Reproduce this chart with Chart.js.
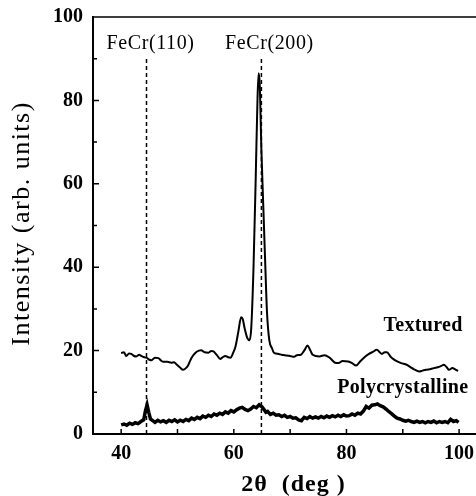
<!DOCTYPE html>
<html>
<head>
<meta charset="utf-8">
<script src="https://cdn.jsdelivr.net/npm/chart.js@4.4.1/dist/chart.umd.min.js"></script>
<style>
html, body { margin: 0; padding: 0; background: #fff; overflow: hidden; }
</style>
</head>
<body>
<canvas id="myChart" width="476" height="496"></canvas>
<script>
// Textured curve (2theta, intensity)
const texturedX = [40.0, 40.5, 40.9, 41.4, 41.8, 42.3, 42.7, 43.2, 43.6, 44.1, 44.5, 45.0, 45.4, 46.0, 46.6, 47.1, 47.5, 48.2, 48.9, 49.4, 49.8, 50.4, 51.0, 51.5, 51.9, 52.5, 53.2, 53.8, 54.2, 54.8, 55.5, 56.0, 56.4, 57.0, 57.6, 58.0, 58.5, 59.0, 59.4, 59.9, 60.3, 60.8, 61.3, 61.6, 61.9, 62.4, 62.8, 63.1, 63.5, 63.9, 64.2, 64.4, 64.6, 64.9, 65.3, 65.6, 65.9, 66.3, 66.8, 67.1, 67.5, 68.0, 68.5, 69.0, 70.0, 70.7, 71.2, 71.9, 72.5, 73.1, 73.6, 74.0, 75.2, 76.1, 77.0, 78.0, 78.6, 79.3, 80.3, 81.0, 81.7, 82.5, 83.3, 84.0, 84.7, 85.4, 85.9, 86.3, 86.8, 87.2, 87.8, 88.4, 89.0, 89.7, 90.7, 91.4, 92.0, 92.9, 93.5, 94.1, 95.0, 95.5, 96.2, 96.8, 97.3, 97.8, 98.2, 98.8, 99.3, 99.8]
const texturedY = [19.4, 19.6, 18.7, 19.3, 19.2, 18.7, 18.6, 19.0, 18.7, 18.4, 18.3, 17.8, 17.7, 18.3, 18.2, 17.6, 17.3, 17.3, 17.1, 17.2, 16.7, 16.0, 15.4, 15.8, 16.5, 18.3, 19.5, 20.0, 20.1, 19.6, 19.5, 19.9, 19.8, 18.9, 18.0, 18.4, 18.7, 18.4, 18.3, 19.5, 21.0, 24.5, 28.0, 27.5, 25.5, 23.0, 22.5, 25.5, 40, 62, 80, 86.5, 84, 68, 52, 40, 29, 22.5, 20.5, 19.5, 19.3, 19.2, 19.0, 18.9, 18.7, 18.5, 18.9, 19.0, 20.0, 21.2, 20.0, 19.0, 18.6, 18.9, 18.3, 17.1, 17.0, 17.5, 17.4, 17.0, 16.4, 17.5, 18.5, 19.2, 19.7, 20.2, 19.6, 19.2, 19.6, 19.6, 18.6, 17.9, 17.4, 17.0, 16.6, 16.0, 15.5, 15.0, 15.2, 15.4, 15.6, 15.8, 16.0, 16.3, 16.6, 16.0, 15.4, 15.8, 15.5, 15.1]

// Polycrystalline curve
const polyX = [40.0, 40.5, 41.0, 41.5, 42.0, 42.5, 43.0, 43.5, 44.0, 44.3, 44.6, 44.9, 45.2, 45.6, 46.0, 46.5, 47.0, 47.5, 48.0, 48.5, 49.0, 49.5, 50.0, 50.5, 51.0, 51.5, 52.0, 52.5, 53.0, 53.5, 54.0, 54.5, 55.0, 55.5, 56.0, 56.5, 57.0, 57.5, 58.0, 58.5, 59.0, 59.5, 60.0, 60.5, 61.0, 61.5, 62.0, 62.5, 63.0, 63.5, 64.0, 64.5, 65.0, 65.3, 65.7, 66.0, 66.5, 67.0, 67.5, 68.0, 68.5, 69.0, 69.5, 70.0, 70.5, 71.0, 71.5, 72.0, 72.5, 73.0, 73.5, 74.0, 74.5, 75.0, 75.5, 76.0, 76.5, 77.0, 77.5, 78.0, 78.5, 79.0, 79.5, 80.0, 80.5, 81.0, 81.5, 82.0, 82.5, 83.0, 83.5, 84.0, 84.5, 85.0, 85.5, 86.0, 86.5, 87.0, 87.5, 88.0, 88.5, 89.0, 89.5, 90.0, 90.5, 91.0, 91.5, 92.0, 92.5, 93.0, 93.5, 94.0, 94.5, 95.0, 95.5, 96.0, 96.5, 97.0, 97.5, 98.0, 98.5, 99.0, 99.5, 99.9]
const polyY = [2.2, 2.4, 2.1, 2.6, 2.3, 2.7, 2.5, 3.0, 3.4, 5.5, 7.0, 5.2, 3.6, 3.2, 2.8, 3.3, 2.9, 3.2, 2.8, 3.3, 3.0, 3.4, 2.9, 3.3, 3.0, 3.5, 3.2, 3.8, 3.5, 4.0, 3.7, 4.3, 4.0, 4.5, 4.2, 4.8, 4.5, 5.0, 4.7, 5.3, 5.0, 5.6, 5.3, 5.8, 6.2, 6.4, 5.9, 5.6, 6.0, 6.6, 6.3, 7.0, 6.5, 6.0, 5.2, 5.4, 4.7, 5.0, 4.5, 4.6, 4.2, 4.5, 4.0, 4.2, 3.8, 3.9, 3.4, 3.2, 4.0, 3.7, 4.2, 3.8, 4.1, 3.8, 4.2, 3.9, 4.3, 4.0, 4.4, 4.1, 4.5, 4.2, 4.6, 4.3, 4.4, 4.8, 4.5, 5.0, 4.8, 5.5, 6.6, 6.2, 6.9, 7.0, 7.2, 6.8, 6.5, 6.0, 5.4, 4.9, 4.3, 3.8, 3.6, 3.3, 3.1, 3.3, 3.0, 2.8, 3.1, 2.8, 3.0, 2.7, 3.0, 2.8, 3.1, 2.7, 3.0, 2.8, 3.0, 2.7, 3.5, 3.0, 3.2, 2.8]

// reference lines
const peakPos = [44.5, 64.9]
const peakNames = ['FeCr(110)', 'FeCr(200)']
const peakTop = 90

const xTicks = [40, 60, 80, 100]
const yTicks = [0, 20, 40, 60, 80, 100]

const serif = '"Liberation Serif", "Times New Roman", serif'

const toPoints = (xs, ys) => xs.map((x, i) => ({ x: x, y: ys[i] }))

const peakSets = peakPos.map((p) => ({
    data: [{ x: p, y: 0 }, { x: p, y: peakTop }],
    borderColor: '#000',
    borderWidth: 1.5,
    borderDash: [4, 3],
    pointRadius: 0
}))

// inward ticks, top frame line, text labels
const decor = {
    id: 'decor',
    afterDraw(chart) {
        const ctx = chart.ctx
        const xs = chart.scales.x
        const ys = chart.scales.y
        const a = chart.chartArea
        ctx.save()
        ctx.strokeStyle = '#000'
        ctx.lineWidth = 1.5
        ctx.beginPath()
        ctx.moveTo(a.left - 1, a.top)
        ctx.lineTo(a.right, a.top)
        for (let v = 40; v <= 100; v += 10) {
            const px = xs.getPixelForValue(v)
            ctx.moveTo(px, a.bottom)
            ctx.lineTo(px, a.bottom - 5)
        }
        for (let v = 10; v < 100; v += 10) {
            const py = ys.getPixelForValue(v)
            ctx.moveTo(a.left, py)
            ctx.lineTo(a.left + (v % 20 === 0 ? 6 : 4), py)
        }
        ctx.stroke()

        ctx.fillStyle = '#000'
        ctx.textAlign = 'center'
        ctx.textBaseline = 'middle'
        ctx.font = '20px ' + serif
        ctx.letterSpacing = '0.6px'
        const labelShift = [4, 8]
        peakPos.forEach((p, i) => {
            ctx.fillText(peakNames[i], xs.getPixelForValue(p) + labelShift[i], ys.getPixelForValue(93.5))
        })
        ctx.font = 'bold 20px ' + serif
        ctx.letterSpacing = '0.3px'
        ctx.fillText('Textured', xs.getPixelForValue(93.6), ys.getPixelForValue(26))
        ctx.fillText('Polycrystalline', xs.getPixelForValue(90.0), ys.getPixelForValue(11.0))

        ctx.font = 'bold 24px ' + serif
        ctx.letterSpacing = '1px'
        ctx.fillText('2\u03b8  (deg )', xs.getPixelForValue(70.6), 485)

        ctx.translate(22, ys.getPixelForValue(50.5))
        ctx.rotate(-Math.PI / 2)
        ctx.font = '26px ' + serif
        ctx.letterSpacing = '1.5px'
        ctx.fillText('Intensity (arb. units)', 0, 0)
        ctx.restore()
    }
}

new Chart(document.getElementById('myChart'), {
    type: 'line',
    data: {
        datasets: [{
            label: 'Textured',
            data: toPoints(texturedX, texturedY),
            borderColor: '#000',
            borderWidth: 2,
            pointRadius: 0,
            cubicInterpolationMode: 'monotone'
        }, {
            label: 'Polycrystalline',
            data: toPoints(polyX, polyY),
            borderColor: '#000',
            borderWidth: 3.5,
            pointRadius: 0
        }, ...peakSets]
    },
    options: {
        responsive: false,
        animation: false,
        devicePixelRatio: 1,
        layout: { padding: { top: 17, right: 0, left: 0, bottom: 0 } },
        plugins: { legend: { display: false }, tooltip: { enabled: false } },
        scales: {
            x: {
                type: 'linear',
                min: 35,
                max: 103,
                afterBuildTicks: (s) => { s.ticks = xTicks.map((v) => ({ value: v })) },
                afterFit: (s) => { s.height = 62; s.paddingLeft = 0; s.paddingRight = 0 },
                grid: { display: false, drawTicks: false },
                border: { display: true, color: '#000', width: 2 },
                ticks: { color: '#000', padding: 8, font: { family: serif, size: 20, weight: 'bold' } }
            },
            y: {
                min: 0,
                max: 100,
                afterBuildTicks: (s) => { s.ticks = yTicks.map((v) => ({ value: v })) },
                afterFit: (s) => { s.width = 93; s.paddingTop = 0; s.paddingBottom = 0 },
                grid: { display: false, drawTicks: false },
                border: { display: true, color: '#000', width: 2 },
                ticks: { color: '#000', padding: 10, font: { family: serif, size: 20, weight: 'bold' } }
            }
        }
    },
    plugins: [decor]
});
</script>
</body>
</html>
